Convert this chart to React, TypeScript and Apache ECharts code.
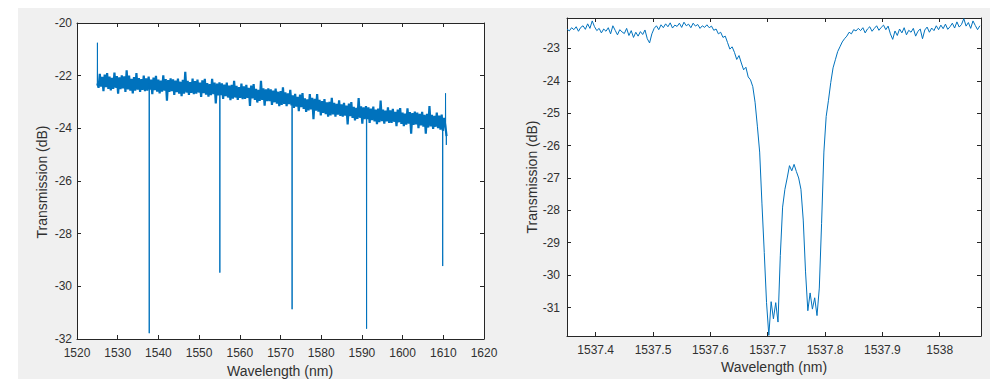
import { useEffect, useRef } from "react";
import * as echarts from "echarts";

// ---------- Left panel: full spectrum (evenly sampled) ----------
const WIDE_X_START = 1525.0;
const WIDE_X_STEP = 0.3;
const wideBandDb = [
  -22.3, -22.46, -21.93, -22.42, -22.04, -22.59, -21.96, -22.44, -21.9, -22.5,
  -22.04, -22.56, -22.08, -22.5, -21.88, -22.46, -22.02, -22.68, -22.06, -22.51,
  -21.99, -22.48, -22.03, -22.62, -21.8, -22.52, -22.0, -22.57, -22.12, -22.67,
  -22.05, -22.57, -21.9, -22.53, -22.09, -22.62, -22.13, -22.54, -22.0, -22.59,
  -22.1, -22.57, -22.04, -22.53, -22.15, -22.7, -22.07, -22.55, -22.01, -22.61,
  -22.15, -22.67, -22.19, -22.61, -21.99, -22.57, -22.13, -22.95, -22.17, -22.62,
  -22.1, -22.59, -22.14, -22.73, -22.19, -22.63, -22.11, -22.68, -22.23, -22.78,
  -22.16, -22.68, -21.85, -22.64, -22.2, -22.73, -22.24, -22.65, -22.11, -22.7,
  -22.21, -22.68, -22.15, -22.64, -22.26, -22.81, -22.18, -22.66, -22.12, -22.72,
  -22.28, -22.8, -22.32, -22.74, -22.12, -22.7, -22.26, -23.05, -22.3, -22.75,
  -22.25, -22.74, -22.29, -22.88, -22.34, -22.78, -22.26, -22.83, -22.38, -22.93,
  -22.35, -22.87, -22.2, -22.83, -22.39, -22.92, -22.43, -22.84, -22.3, -22.89,
  -22.41, -22.88, -22.35, -22.84, -22.46, -23.15, -22.38, -22.86, -22.32, -22.92,
  -22.5, -23.02, -22.54, -22.96, -22.2, -22.92, -22.48, -23.14, -22.52, -22.97,
  -22.48, -22.97, -22.52, -23.11, -22.57, -23.01, -22.49, -23.06, -22.61, -23.16,
  -22.59, -23.11, -22.44, -23.07, -22.63, -23.16, -22.67, -23.08, -22.54, -23.13,
  -22.75, -23.22, -22.69, -23.18, -22.8, -23.35, -22.72, -23.2, -22.66, -23.26,
  -22.86, -23.38, -22.9, -23.32, -22.7, -23.28, -22.84, -23.65, -22.88, -23.33,
  -22.7, -23.37, -22.92, -23.51, -22.97, -23.41, -22.89, -23.46, -23.01, -23.56,
  -22.99, -23.51, -22.84, -23.47, -23.03, -23.56, -23.07, -23.48, -22.94, -23.53,
  -23.09, -23.56, -23.03, -23.52, -23.14, -23.85, -23.06, -23.54, -23.0, -23.6,
  -23.18, -23.7, -23.22, -23.64, -22.85, -23.6, -23.16, -23.82, -23.2, -23.65,
  -23.16, -23.65, -23.2, -23.79, -23.25, -23.69, -23.17, -23.74, -23.29, -23.84,
  -23.25, -23.77, -22.95, -23.73, -23.29, -23.82, -23.33, -23.74, -23.2, -23.79,
  -23.32, -23.79, -23.26, -23.75, -23.37, -23.92, -23.29, -23.77, -23.23, -23.83,
  -23.4, -23.92, -23.44, -23.86, -23.24, -23.82, -23.38, -24.2, -23.42, -23.87,
  -23.36, -23.85, -23.4, -23.99, -23.45, -23.89, -23.37, -23.94, -23.49, -24.2,
  -23.45, -23.97, -23.15, -23.93, -23.49, -24.02, -23.53, -23.94, -23.4, -23.99,
  -23.52, -24.05, -23.48, -24.1, -23.6, -23.9, -24.3,
];
// narrow resonance dips (down) and edge spikes (up / down) that cut through the band
const wideDipNm = [1537.75, 1555.1, 1572.85, 1591.15, 1609.85];
const wideDipDb = [-31.78, -29.48, -30.87, -31.61, -29.23];
const wideSpikeNm = [1525.02, 1610.55, 1610.75];
const wideSpikeDb = [-20.75, -22.67, -24.63];

// ---------- Right panel: zoom on one resonance (evenly sampled) ----------
const ZOOM_X_START = 1537.35;
const ZOOM_X_STEP = 0.004;
const zoomDb = [
  -22.4, -22.46, -22.36, -22.42, -22.33, -22.47, -22.35, -22.3, -22.41, -22.24,
  -22.38, -22.15, -22.33, -22.45, -22.38, -22.52, -22.4, -22.47, -22.36, -22.55,
  -22.3, -22.44, -22.58, -22.42, -22.49, -22.54, -22.38, -22.6, -22.45, -22.66,
  -22.5, -22.62, -22.48, -22.57, -22.43, -22.7, -22.83, -22.55, -22.38, -22.3,
  -22.42, -22.27, -22.36, -22.24, -22.33, -22.21, -22.37, -22.28, -22.32, -22.22,
  -22.35, -22.19, -22.3, -22.25, -22.36, -22.22, -22.31, -22.26, -22.38, -22.3,
  -22.35, -22.27, -22.36, -22.31, -22.44, -22.4, -22.55, -22.5, -22.66, -22.62,
  -22.82, -23.02, -22.95, -23.12, -23.34, -23.22, -23.45, -23.66, -23.58, -23.88,
  -23.97, -24.18, -24.66, -25.4, -26.2, -27.8, -29.3, -30.85, -31.86, -30.82,
  -31.35, -30.85, -31.45, -29.4, -27.9, -27.35, -27.0, -26.62, -26.78, -26.58,
  -26.8, -27.0, -27.35, -28.3, -29.9, -31.1, -30.55, -31.05, -30.7, -31.25,
  -30.4, -28.4, -26.2, -25.1, -24.6, -24.05, -23.6, -23.35, -23.1, -22.95,
  -22.8, -22.7, -22.62, -22.5, -22.55, -22.42, -22.46, -22.38, -22.45, -22.36,
  -22.52, -22.4, -22.33, -22.47, -22.38, -22.3, -22.44, -22.35, -22.28, -22.42,
  -22.31, -22.55, -22.72, -22.46, -22.6, -22.4, -22.52, -22.36, -22.58, -22.44,
  -22.5, -22.38, -22.62, -22.47, -22.4, -22.7, -22.43, -22.34, -22.5, -22.37,
  -22.45, -22.3, -22.42, -22.28, -22.39, -22.25, -22.41, -22.33, -22.22, -22.37,
  -22.18, -22.34, -22.26, -22.08, -22.31, -22.2, -22.38, -22.15, -22.29, -22.42, -22.3,
];

// ---------- Axis ranges ----------
const wideXRange = [1520, 1620];
const wideXStep = 10;
const wideYRange = [-32, -20];
const wideYStep = 2;
const zoomXRange = [1537.35, 1538.072];
const zoomYRange = [-31.88, -22.06];

const xTitle = "Wavelength (nm)";
const yTitle = "Transmission (dB)";

const FONT = "'Liberation Sans', Arial, Helvetica, sans-serif";
const AX = "#262626";
const TXT = "#303030";
const LINE = "#0072BD";

function onGrid(v: number, step: number) {
  const r = Math.round(v / step) * step;
  return Math.abs(v - r) < step * 1e-4;
}

function makeAxis(
  gridIndex: number,
  position: string,
  showLabels: boolean,
  extra: any,
  labelFmt: (v: number) => string,
  margin = 8
) {
  return {
    type: "value",
    gridIndex,
    position,
    scale: true,
    ...extra,
    axisLine: { show: true, onZero: false, lineStyle: { color: AX, width: 1 } },
    axisTick: { show: true, inside: true, length: 4, lineStyle: { color: AX, width: 1 } },
    axisLabel: {
      show: showLabels,
      color: TXT,
      fontSize: 12,
      fontFamily: FONT,
      margin,
      formatter: labelFmt,
    },
    splitLine: { show: false },
  };
}

export default function App() {
  const ref = useRef<HTMLDivElement>(null);

  useEffect(() => {
    if (!ref.current) return;
    const chart = echarts.init(ref.current, undefined, { renderer: "svg" });

    const wideData: [number, number][] = wideBandDb.map((v, i) => [
      +(WIDE_X_START + i * WIDE_X_STEP).toFixed(3),
      v,
    ]);

    const bandAt = (x: number) => {
      const i = Math.min(
        Math.max(Math.floor((x - WIDE_X_START) / WIDE_X_STEP), 0),
        wideBandDb.length - 1
      );
      return (wideBandDb[i] + wideBandDb[Math.min(i + 1, wideBandDb.length - 1)]) / 2;
    };

    const thinLine = (x: number, y: number) => {
      const base = bandAt(x);
      return {
        type: "line",
        xAxisIndex: 0,
        yAxisIndex: 0,
        data: [
          [x - 0.04, base],
          [x, y],
          [x + 0.04, base],
        ],
        showSymbol: false,
        symbol: "none",
        lineStyle: { color: LINE, width: 1 },
        itemStyle: { color: LINE },
        z: 3,
      };
    };
    const dipSeries = wideDipNm.map((x, k) => thinLine(x, wideDipDb[k]));
    const spikeSeries = wideSpikeNm.map((x, k) => thinLine(x, wideSpikeDb[k]));

    const zoomData: [number, number][] = zoomDb.map((v, i) => [
      +(ZOOM_X_START + i * ZOOM_X_STEP).toFixed(4),
      v,
    ]);

    const plainFmt = (v: number) => String(Math.round(v));
    const zoomXFmt = (v: number) =>
      onGrid(v, 0.1) ? String(Math.round(v * 10) / 10) : "";
    const zoomYFmt = (v: number) => (onGrid(v, 1) ? String(Math.round(v)) : "");

    const wideX = { min: wideXRange[0], max: wideXRange[1], interval: wideXStep };
    const wideY = { min: wideYRange[0], max: wideYRange[1], interval: wideYStep };
    const zoomX = { min: zoomXRange[0], max: zoomXRange[1], splitNumber: 7 };
    const zoomY = { min: zoomYRange[0], max: zoomYRange[1], splitNumber: 10 };

    chart.setOption({
      animation: false,
      backgroundColor: "transparent",
      grid: [
        { left: 77, top: 23, width: 407, height: 316, show: true, backgroundColor: "#ffffff", borderWidth: 0 },
        { left: 567, top: 18, width: 414, height: 318, show: true, backgroundColor: "#ffffff", borderWidth: 0 },
      ],
      xAxis: [
        makeAxis(0, "bottom", true, wideX, plainFmt),
        makeAxis(0, "top", false, wideX, plainFmt),
        makeAxis(1, "bottom", true, zoomX, zoomXFmt),
        makeAxis(1, "top", false, zoomX, zoomXFmt),
      ],
      yAxis: [
        makeAxis(0, "left", true, wideY, plainFmt, 5),
        makeAxis(0, "right", false, wideY, plainFmt),
        makeAxis(1, "left", true, zoomY, zoomYFmt, 7),
        makeAxis(1, "right", false, zoomY, zoomYFmt),
      ],
      series: [
        {
          type: "line",
          xAxisIndex: 0,
          yAxisIndex: 0,
          data: wideData,
          showSymbol: false,
          symbol: "none",
          lineStyle: { color: LINE, width: 2.2, join: "miter", miterLimit: 2 },
          itemStyle: { color: LINE },
          z: 2,
        },
        ...dipSeries,
        ...spikeSeries,
        {
          type: "line",
          xAxisIndex: 2,
          yAxisIndex: 2,
          data: zoomData,
          showSymbol: false,
          symbol: "none",
          lineStyle: { color: LINE, width: 1 },
          itemStyle: { color: LINE },
        },
      ],
      graphic: [
        {
          type: "text",
          x: 42,
          y: 182,
          rotation: Math.PI / 2,
          style: { text: yTitle, fontSize: 14, fontFamily: FONT, fill: TXT, align: "center", verticalAlign: "middle" },
        },
        {
          type: "text",
          x: 532,
          y: 177,
          rotation: Math.PI / 2,
          style: { text: yTitle, fontSize: 14, fontFamily: FONT, fill: TXT, align: "center", verticalAlign: "middle" },
        },
        {
          type: "text",
          x: 280,
          y: 371,
          style: { text: xTitle, fontSize: 14, fontFamily: FONT, fill: TXT, align: "center", verticalAlign: "middle" },
        },
        {
          type: "text",
          x: 774,
          y: 367,
          style: { text: xTitle, fontSize: 14, fontFamily: FONT, fill: TXT, align: "center", verticalAlign: "middle" },
        },
      ],
    });

    return () => chart.dispose();
  }, []);

  return (
    <div style={{ position: "fixed", left: 0, top: 0, width: 1000, height: 388, background: "#ffffff" }}>
      <div
        style={{ position: "absolute", left: 18, top: 8, width: 972, height: 371, background: "#f0f0f0" }}
      />
      <div ref={ref} style={{ position: "absolute", left: 0, top: 0, width: 1000, height: 388 }} />
    </div>
  );
}
